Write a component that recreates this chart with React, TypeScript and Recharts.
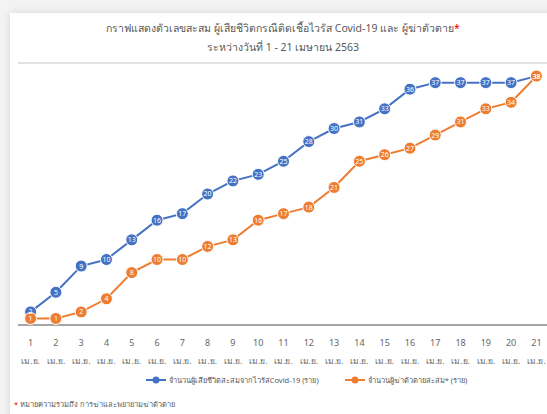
import { LineChart, Line, XAxis, YAxis, CartesianGrid, Legend, LabelList } from "recharts";

const days = ["1", "2", "3", "4", "5", "6", "7", "8", "9", "10", "11", "12", "13", "14", "15", "16", "17", "18", "19", "20", "21"];
const covidDeaths = [2, 5, 9, 10, 13, 16, 17, 20, 22, 23, 25, 28, 30, 31, 33, 36, 37, 37, 37, 37, 38];
const suicides = [1, 1, 2, 4, 8, 10, 10, 12, 13, 16, 17, 18, 21, 25, 26, 27, 29, 31, 33, 34, 38];
const yTicks = [0, 5, 10, 15, 20, 25, 30, 35, 40];

const monthLabel = "เม.ย.";
const covidName = "จำนวนผู้เสียชีวิตสะสมจากไวรัสCovid-19 (ราย)";
const suicideName = "จำนวนผู้ฆ่าตัวตายสะสม* (ราย)";

const BLUE = "#4472C4";
const ORANGE = "#ED7D31";
const FONT = "'Noto Sans', 'Open Sans', sans-serif";

const data = days.map((d, i) => ({
    day: d,
    covid: covidDeaths[i],
    suicide: suicides[i],
}));

function DayTick(props: any) {
    const { x, y, payload } = props;
    return (
        <g transform={`translate(${x},${y})`}>
            <text x={0} y={13} textAnchor="middle" fontSize={9} fill="#666" fontFamily={FONT}>
                {payload.value}
            </text>
            <text x={0} y={31} textAnchor="middle" fontSize={8.5} fill="#666" fontFamily={FONT}>
                {monthLabel}
            </text>
        </g>
    );
}

// legend drawn like Excel: line with a filled marker, blue series first
function SeriesLegend(props: any) {
    const items = [...(props.payload || [])].sort((a: any, b: any) =>
        a.dataKey === "covid" ? -1 : b.dataKey === "covid" ? 1 : 0
    );
    return (
        <div style={{ display: "flex", justifyContent: "center", gap: 26, paddingLeft: 66 }}>
            {items.map((it: any) => (
                <div key={it.dataKey} style={{ display: "flex", alignItems: "center", fontSize: 7.5, color: "#595959" }}>
                    <svg width={20} height={10} style={{ marginRight: 3 }}>
                        <line x1={0} y1={5} x2={20} y2={5} stroke={it.color} strokeWidth={2} />
                        <circle cx={10} cy={5} r={3.5} fill={it.color} />
                    </svg>
                    <span>{it.value}</span>
                </div>
            ))}
        </div>
    );
}

export default function App() {
    return (
        <div style={{ position: "absolute", left: 0, top: 0, width: 547, height: 414, overflow: "hidden", background: "#f3f3f3", fontFamily: FONT }}>
            <div style={{ position: "absolute", left: 10, top: 13, width: 560, height: 420, background: "#fff", boxShadow: "0 0 8px rgba(0,0,0,0.12)" }} />

            <div style={{ position: "absolute", left: 0, top: 19, width: 566, textAlign: "center", fontSize: 10.5, color: "#595959", lineHeight: "19px" }}>
                <div>
                    กราฟแสดงตัวเลขสะสม ผู้เสียชีวิตกรณีติดเชื้อไวรัส Covid-19 และ ผู้ฆ่าตัวตาย<span style={{ color: "#e00" }}>*</span>
                </div>
                <div>ระหว่างวันที่ 1 - 21 เมษายน 2563</div>
            </div>

            <div style={{ position: "absolute", left: 0, top: 0 }}>
                <LineChart width={549} height={414} data={data} margin={{ top: 63, right: 0, bottom: 49, left: 18 }}>
                    <CartesianGrid vertical={false} stroke="#d9d9d9" strokeWidth={1.5} />
                    <XAxis
                        dataKey="day"
                        padding={{ left: 12.6, right: 12.6 }}
                        tick={<DayTick />}
                        tickLine={false}
                        axisLine={{ stroke: "#a6a6a6", strokeWidth: 2 }}
                        interval={0}
                        height={40}
                    />
                    <YAxis domain={[0, 40]} ticks={yTicks} width={0} tick={false} axisLine={false} tickLine={false} />
                    <Legend
                        verticalAlign="middle"
                        align="center"
                        content={<SeriesLegend />}
                        wrapperStyle={{ top: 374, left: 0, width: 547 }}
                    />
                    <Line
                        name={covidName}
                        dataKey="covid"
                        stroke={BLUE}
                        strokeWidth={2}
                        dot={{ r: 6, fill: BLUE, stroke: "#fff", strokeWidth: 1 }}
                        isAnimationActive={false}
                    >
                        <LabelList dataKey="covid" position="center" fill="#fff" fontSize={7} fontFamily={FONT} />
                    </Line>
                    <Line
                        name={suicideName}
                        dataKey="suicide"
                        stroke={ORANGE}
                        strokeWidth={2}
                        dot={{ r: 6, fill: ORANGE, stroke: "#fff", strokeWidth: 1 }}
                        isAnimationActive={false}
                    >
                        <LabelList dataKey="suicide" position="center" fill="#fff" fontSize={7} fontFamily={FONT} />
                    </Line>
                </LineChart>
            </div>

            <div style={{ position: "absolute", left: 14, top: 398, fontSize: 7.5, color: "#595959" }}>
                <span style={{ color: "#e00" }}>*</span> หมายความรวมถึง การฆ่าและพยายามฆ่าตัวตาย
            </div>
        </div>
    );
}
